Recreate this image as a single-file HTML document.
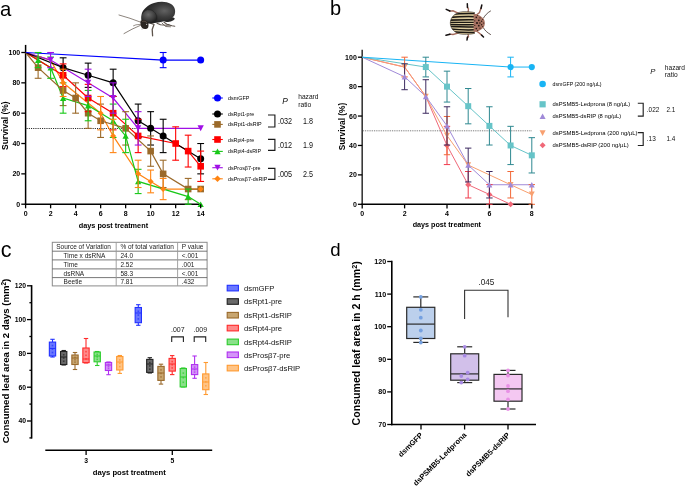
<!DOCTYPE html>
<html><head><meta charset="utf-8"><style>
html,body{margin:0;padding:0;background:#fff;}
svg{display:block;will-change:transform;}
text{font-family:"Liberation Sans",sans-serif;}
</style></head><body>
<svg width="685" height="486" viewBox="0 0 685 486">
<rect width="685" height="486" fill="#fff"/>
<defs>
<radialGradient id="ga1" cx="0.68" cy="0.42" r="0.55"><stop offset="0" stop-color="#626262"/><stop offset="0.55" stop-color="#3c3c3c"/><stop offset="1" stop-color="#262626"/></radialGradient>
<radialGradient id="ga2" cx="0.45" cy="0.35" r="0.6"><stop offset="0" stop-color="#6a6a6a"/><stop offset="0.7" stop-color="#3a3a3a"/><stop offset="1" stop-color="#222"/></radialGradient>
<linearGradient id="gb" x1="0" y1="0" x2="0" y2="1">
<stop offset="0" stop-color="#2a2420"/><stop offset="0.06" stop-color="#e2d2aa"/><stop offset="0.12" stop-color="#1e1a16"/><stop offset="0.2" stop-color="#e6d6ae"/><stop offset="0.26" stop-color="#1e1a16"/><stop offset="0.33" stop-color="#e6d6ae"/><stop offset="0.39" stop-color="#1e1a16"/><stop offset="0.45" stop-color="#e6d6ae"/><stop offset="0.5" stop-color="#2a2420"/><stop offset="0.55" stop-color="#e6d6ae"/><stop offset="0.61" stop-color="#1e1a16"/><stop offset="0.67" stop-color="#e6d6ae"/><stop offset="0.74" stop-color="#1e1a16"/><stop offset="0.8" stop-color="#e6d6ae"/><stop offset="0.88" stop-color="#1e1a16"/><stop offset="0.94" stop-color="#e2d2aa"/><stop offset="1" stop-color="#2a2420"/>
</linearGradient>
</defs>
<g id="beetleA" fill="none" stroke-linecap="round" stroke-linejoin="round">
  <path d="M141,22.3 L130,18.3 L119,15" stroke="#6e645c" stroke-width="0.8"/>
  <path d="M141.2,25 L132,29.2 L124,33.6" stroke="#6e645c" stroke-width="0.8"/>
  <path d="M141,24.3 L136,24.8 L133.5,25.8" stroke="#6e645c" stroke-width="0.7"/>
  <path d="M150.5,23.2 L154,24.5 L152.2,29.5 L152.6,35.8" stroke="#5e544c" stroke-width="1.3"/>
  <path d="M157,23.3 L160.5,24.8 L166,25.2 L169,24.6" stroke="#5e544c" stroke-width="1.1"/>
  <path d="M164,22.2 L167.5,24.6 L172,25.8 L174.8,26.2" stroke="#5e544c" stroke-width="1.1"/>
  <path d="M162,23 L165.5,26.5 L170.5,26.8" stroke="#6e645c" stroke-width="0.9"/>
  <path d="M162.5,16.8 C167.5,16 172.5,16.5 174.8,18.4 C174.2,20.6 170.5,21.8 166.5,21.9 C163.2,21.7 161,19.5 162.5,16.8 Z" fill="#2a2a2a"/>
  <path d="M141.6,14.2 C143,9 148,5 154,3 C160,1.2 166,1.2 171,4 C175,6.5 176,11 174.5,15 C172.8,18.5 168,20.3 163,21.5 C158,22.8 152,23.5 148,23.2 C144,22.8 141,20 141.6,14.2 Z" fill="url(#ga1)"/>
  <path d="M141.2,18.5 C141.3,14 144.5,10.5 148.5,9.8 C152.5,9.3 156,12.5 157,17 C157.6,20.5 154,23.3 149.5,23.6 C145,23.8 141,22 141.2,18.5 Z" fill="url(#ga2)"/>
  <path d="M148.5,9.8 C152.5,9.3 156,12.5 157,17 C157.4,19 156.5,20.8 155,21.8" stroke="#1e1e1e" stroke-width="0.45"/>
  <path d="M140.6,20.8 C141.8,19.6 144.6,19.6 146.4,20.8 C148.6,22.3 149,25.5 148.1,27.8 C147,29.4 143.6,29.6 142.1,28.1 C140.6,26.4 140.1,22.6 140.6,20.8 Z" fill="#2b2622"/>
  <path d="M142.6,21.4 C144,20.8 145.8,21.3 146.8,22.6" stroke="#6a5a50" stroke-width="0.7"/>
  <circle cx="146.6" cy="24.4" r="0.6" fill="#bbb"/>
  <circle cx="142" cy="29" r="0.5" fill="#999"/>
</g>
<clipPath id="cpB"><path d="M474.6,12.6 C471,11.7 467.5,11.5 463,11.7 C455.5,12.2 450.3,17 450.3,23 C450.3,29.2 455.5,33.9 463,34.3 C467.5,34.5 471,34.3 474.6,33.4 Z"/></clipPath>
<g id="beetleB" fill="none" stroke-linecap="round">
  <path d="M476.5,15 L479.5,12.5 L481,8" stroke="#a46a5c" stroke-width="1.35"/>
  <path d="M481,8.5 L481.8,5" stroke="#141010" stroke-width="1.5"/>
  <path d="M468,12.5 L468.5,9 L467.3,7" stroke="#a46a5c" stroke-width="1.35"/>
  <path d="M467.5,7.5 L467.3,3.8" stroke="#141010" stroke-width="1.5"/>
  <path d="M458,13.2 L453,10.8 L449.5,11.2" stroke="#a46a5c" stroke-width="1.35"/>
  <path d="M450,11 L446.2,9.4" stroke="#141010" stroke-width="1.5"/>
  <path d="M476.5,31 L479.5,33.3 L482,35.5" stroke="#a46a5c" stroke-width="1.35"/>
  <path d="M481.5,35 L483.5,37" stroke="#141010" stroke-width="1.5"/>
  <path d="M468,33.8 L468.5,36.5 L467.2,38" stroke="#a46a5c" stroke-width="1.35"/>
  <path d="M467.5,37 L467,40" stroke="#141010" stroke-width="1.5"/>
  <path d="M458,33.2 L453,34.5 L449.5,34.2" stroke="#a46a5c" stroke-width="1.35"/>
  <path d="M450,34.2 L446,35.2" stroke="#141010" stroke-width="1.5"/>
  <path d="M483.5,18 C485,15.5 487,13 490.5,11" stroke="#3a2a24" stroke-width="0.8"/>
  <path d="M483.5,28 C485,30.5 487,32.5 490.5,34.5" stroke="#3a2a24" stroke-width="0.8"/>
  <g clip-path="url(#cpB)">
    <rect x="449" y="11" width="26" height="25" fill="#dccb9e"/>
    <path d="M449,14.73 Q462,13.04 475,13.60" stroke="#1c1814" stroke-width="1.5" fill="none"/>
    <path d="M449,17.46 Q462,16.32 475,16.70" stroke="#1c1814" stroke-width="1.5" fill="none"/>
    <path d="M449,20.18 Q462,19.61 475,19.80" stroke="#1c1814" stroke-width="1.6" fill="none"/>
    <path d="M449,22.47 Q462,22.36 475,22.40" stroke="#1c1814" stroke-width="1.3" fill="none"/>
    <path d="M449,24.50 Q462,24.80 475,24.70" stroke="#1c1814" stroke-width="1.3" fill="none"/>
    <path d="M449,26.52 Q462,27.24 475,27.00" stroke="#1c1814" stroke-width="1.5" fill="none"/>
    <path d="M449,28.98 Q462,30.21 475,29.80" stroke="#1c1814" stroke-width="1.5" fill="none"/>
    <path d="M449,31.27 Q462,32.96 475,32.40" stroke="#1c1814" stroke-width="1.5" fill="none"/>
  </g>
  <path d="M474.6,12.6 C471,11.7 467.5,11.5 463,11.7 C455.5,12.2 450.3,17 450.3,23 C450.3,29.2 455.5,33.9 463,34.3 C467.5,34.5 471,34.3 474.6,33.4" stroke="#3a3028" stroke-width="0.6"/>
  <path d="M473.6,14 C477.5,13.8 481.5,16.5 483.8,19 C485.2,21.5 485.2,24.8 483.8,27.2 C481.5,29.8 477.5,32.2 473.6,32 Z" fill="#a87262"/>
  <circle cx="476.3" cy="17.4" r="0.8" fill="#2a1a14"/>
  <circle cx="478.8" cy="20.3" r="0.9" fill="#2a1a14"/>
  <circle cx="477" cy="23" r="1.1" fill="#2a1a14"/>
  <circle cx="478.8" cy="25.7" r="0.9" fill="#2a1a14"/>
  <circle cx="476.3" cy="28.6" r="0.8" fill="#2a1a14"/>
  <circle cx="481.6" cy="21.3" r="0.7" fill="#2a1a14"/>
  <circle cx="481.6" cy="24.8" r="0.7" fill="#2a1a14"/>
  <circle cx="474.8" cy="20.8" r="0.6" fill="#2a1a14"/>
  <circle cx="474.8" cy="25.3" r="0.6" fill="#2a1a14"/>
  <circle cx="483.6" cy="23" r="0.6" fill="#2a1a14"/>
  <circle cx="480" cy="17.8" r="0.6" fill="#2a1a14"/>
  <circle cx="480" cy="28.2" r="0.6" fill="#2a1a14"/>
  <circle cx="479.9" cy="23" r="0.8" fill="#2a1a14"/>
  <circle cx="482.6" cy="19.6" r="0.5" fill="#2a1a14"/>
  <circle cx="482.6" cy="26.4" r="0.5" fill="#2a1a14"/>
  <circle cx="477.6" cy="15.6" r="0.5" fill="#2a1a14"/>
  <circle cx="477.6" cy="30.4" r="0.5" fill="#2a1a14"/>
</g>

<text x="0.00" y="15.70" font-size="20.3" text-anchor="start" fill="#000" >a</text>
<text x="329.90" y="15.00" font-size="20.0" text-anchor="start" fill="#000" >b</text>
<text x="0.70" y="256.50" font-size="21.5" text-anchor="start" fill="#000" >c</text>
<text x="330.30" y="255.80" font-size="18.6" text-anchor="start" fill="#000" >d</text>
<line x1="26.60" y1="128.50" x2="200.67" y2="128.50" stroke="#1a1a1a" stroke-width="0.95" stroke-dasharray="1.1,1.1"/>
<line x1="25.60" y1="44.91" x2="25.60" y2="204.95" stroke="#000" stroke-width="1.5" />
<line x1="24.85" y1="204.20" x2="201.17" y2="204.20" stroke="#000" stroke-width="1.5" />
<polyline points="25.60,52.50 50.61,60.09 63.12,82.84 100.63,113.18 113.14,135.94 138.15,173.86 150.65,181.44 163.16,189.03 200.67,189.03" fill="none" stroke="#ff8412" stroke-width="1.2"/>
<polyline points="25.60,52.50 50.61,60.09 88.12,82.84 113.14,98.01 138.15,128.35 200.67,128.35" fill="none" stroke="#a010e6" stroke-width="1.2"/>
<polyline points="25.60,52.50 38.11,60.09 50.61,67.67 63.12,98.01 88.12,105.59 113.14,120.77 125.64,135.94 138.15,181.44 188.16,196.61 200.67,204.20" fill="none" stroke="#18c818" stroke-width="1.2"/>
<polyline points="25.60,52.50 63.12,75.25 88.12,98.01 113.14,113.18 138.15,135.94 175.66,143.52 188.16,151.10 200.67,166.27" fill="none" stroke="#ff0000" stroke-width="1.2"/>
<polyline points="25.60,52.50 38.11,67.67 63.12,90.42 75.62,98.01 88.12,113.18 100.63,120.77 125.64,128.35 150.65,151.10 163.16,173.86 188.16,189.03 200.67,189.03" fill="none" stroke="#9b6a2a" stroke-width="1.2"/>
<polyline points="25.60,52.50 63.12,67.67 88.12,75.25 113.14,82.84 138.15,120.77 150.65,128.35 163.16,135.94 200.67,158.69" fill="none" stroke="#000000" stroke-width="1.2"/>
<polyline points="25.60,52.50 163.16,60.09 200.67,60.09" fill="none" stroke="#0000ff" stroke-width="1.2"/>
<line x1="163.16" y1="52.50" x2="163.16" y2="67.67" stroke="#0000ff" stroke-width="1.1" />
<line x1="159.75" y1="52.50" x2="166.56" y2="52.50" stroke="#0000ff" stroke-width="1.1" />
<line x1="159.75" y1="67.67" x2="166.56" y2="67.67" stroke="#0000ff" stroke-width="1.1" />
<circle cx="163.16" cy="60.09" r="3.50" fill="#0000ff"/>
<circle cx="200.67" cy="60.09" r="3.50" fill="#0000ff"/>
<line x1="63.12" y1="57.81" x2="63.12" y2="77.53" stroke="#000000" stroke-width="1.1" />
<line x1="59.72" y1="57.81" x2="66.52" y2="57.81" stroke="#000000" stroke-width="1.1" />
<line x1="59.72" y1="77.53" x2="66.52" y2="77.53" stroke="#000000" stroke-width="1.1" />
<line x1="88.12" y1="63.12" x2="88.12" y2="87.39" stroke="#000000" stroke-width="1.1" />
<line x1="84.72" y1="63.12" x2="91.53" y2="63.12" stroke="#000000" stroke-width="1.1" />
<line x1="84.72" y1="87.39" x2="91.53" y2="87.39" stroke="#000000" stroke-width="1.1" />
<line x1="113.14" y1="69.19" x2="113.14" y2="96.49" stroke="#000000" stroke-width="1.1" />
<line x1="109.74" y1="69.19" x2="116.54" y2="69.19" stroke="#000000" stroke-width="1.1" />
<line x1="109.74" y1="96.49" x2="116.54" y2="96.49" stroke="#000000" stroke-width="1.1" />
<line x1="138.15" y1="104.08" x2="138.15" y2="137.45" stroke="#000000" stroke-width="1.1" />
<line x1="134.75" y1="104.08" x2="141.55" y2="104.08" stroke="#000000" stroke-width="1.1" />
<line x1="134.75" y1="137.45" x2="141.55" y2="137.45" stroke="#000000" stroke-width="1.1" />
<line x1="150.65" y1="111.66" x2="150.65" y2="145.04" stroke="#000000" stroke-width="1.1" />
<line x1="147.25" y1="111.66" x2="154.05" y2="111.66" stroke="#000000" stroke-width="1.1" />
<line x1="147.25" y1="145.04" x2="154.05" y2="145.04" stroke="#000000" stroke-width="1.1" />
<line x1="163.16" y1="119.25" x2="163.16" y2="152.62" stroke="#000000" stroke-width="1.1" />
<line x1="159.75" y1="119.25" x2="166.56" y2="119.25" stroke="#000000" stroke-width="1.1" />
<line x1="159.75" y1="152.62" x2="166.56" y2="152.62" stroke="#000000" stroke-width="1.1" />
<line x1="200.67" y1="143.52" x2="200.67" y2="173.86" stroke="#000000" stroke-width="1.1" />
<line x1="197.27" y1="143.52" x2="204.07" y2="143.52" stroke="#000000" stroke-width="1.1" />
<line x1="197.27" y1="173.86" x2="204.07" y2="173.86" stroke="#000000" stroke-width="1.1" />
<circle cx="63.12" cy="67.67" r="3.50" fill="#000000"/>
<circle cx="88.12" cy="75.25" r="3.50" fill="#000000"/>
<circle cx="113.14" cy="82.84" r="3.50" fill="#000000"/>
<circle cx="138.15" cy="120.77" r="3.50" fill="#000000"/>
<circle cx="150.65" cy="128.35" r="3.50" fill="#000000"/>
<circle cx="163.16" cy="135.94" r="3.50" fill="#000000"/>
<circle cx="200.67" cy="158.69" r="3.50" fill="#000000"/>
<line x1="38.11" y1="57.05" x2="38.11" y2="78.29" stroke="#9b6a2a" stroke-width="1.1" />
<line x1="34.71" y1="57.05" x2="41.51" y2="57.05" stroke="#9b6a2a" stroke-width="1.1" />
<line x1="34.71" y1="78.29" x2="41.51" y2="78.29" stroke="#9b6a2a" stroke-width="1.1" />
<line x1="63.12" y1="75.25" x2="63.12" y2="105.59" stroke="#9b6a2a" stroke-width="1.1" />
<line x1="59.72" y1="75.25" x2="66.52" y2="75.25" stroke="#9b6a2a" stroke-width="1.1" />
<line x1="59.72" y1="105.59" x2="66.52" y2="105.59" stroke="#9b6a2a" stroke-width="1.1" />
<line x1="75.62" y1="82.84" x2="75.62" y2="113.18" stroke="#9b6a2a" stroke-width="1.1" />
<line x1="72.22" y1="82.84" x2="79.02" y2="82.84" stroke="#9b6a2a" stroke-width="1.1" />
<line x1="72.22" y1="113.18" x2="79.02" y2="113.18" stroke="#9b6a2a" stroke-width="1.1" />
<line x1="88.12" y1="98.01" x2="88.12" y2="128.35" stroke="#9b6a2a" stroke-width="1.1" />
<line x1="84.72" y1="98.01" x2="91.53" y2="98.01" stroke="#9b6a2a" stroke-width="1.1" />
<line x1="84.72" y1="128.35" x2="91.53" y2="128.35" stroke="#9b6a2a" stroke-width="1.1" />
<line x1="100.63" y1="104.08" x2="100.63" y2="137.45" stroke="#9b6a2a" stroke-width="1.1" />
<line x1="97.23" y1="104.08" x2="104.03" y2="104.08" stroke="#9b6a2a" stroke-width="1.1" />
<line x1="97.23" y1="137.45" x2="104.03" y2="137.45" stroke="#9b6a2a" stroke-width="1.1" />
<line x1="125.64" y1="111.66" x2="125.64" y2="145.04" stroke="#9b6a2a" stroke-width="1.1" />
<line x1="122.24" y1="111.66" x2="129.04" y2="111.66" stroke="#9b6a2a" stroke-width="1.1" />
<line x1="122.24" y1="145.04" x2="129.04" y2="145.04" stroke="#9b6a2a" stroke-width="1.1" />
<line x1="150.65" y1="135.94" x2="150.65" y2="166.27" stroke="#9b6a2a" stroke-width="1.1" />
<line x1="147.25" y1="135.94" x2="154.05" y2="135.94" stroke="#9b6a2a" stroke-width="1.1" />
<line x1="147.25" y1="166.27" x2="154.05" y2="166.27" stroke="#9b6a2a" stroke-width="1.1" />
<line x1="163.16" y1="160.21" x2="163.16" y2="187.51" stroke="#9b6a2a" stroke-width="1.1" />
<line x1="159.75" y1="160.21" x2="166.56" y2="160.21" stroke="#9b6a2a" stroke-width="1.1" />
<line x1="159.75" y1="187.51" x2="166.56" y2="187.51" stroke="#9b6a2a" stroke-width="1.1" />
<line x1="188.16" y1="178.41" x2="188.16" y2="199.65" stroke="#9b6a2a" stroke-width="1.1" />
<line x1="184.76" y1="178.41" x2="191.56" y2="178.41" stroke="#9b6a2a" stroke-width="1.1" />
<line x1="184.76" y1="199.65" x2="191.56" y2="199.65" stroke="#9b6a2a" stroke-width="1.1" />
<rect x="34.81" y="64.37" width="6.60" height="6.60" fill="#9b6a2a"/>
<rect x="59.82" y="87.12" width="6.60" height="6.60" fill="#9b6a2a"/>
<rect x="72.32" y="94.71" width="6.60" height="6.60" fill="#9b6a2a"/>
<rect x="84.83" y="109.88" width="6.60" height="6.60" fill="#9b6a2a"/>
<rect x="97.33" y="117.47" width="6.60" height="6.60" fill="#9b6a2a"/>
<rect x="122.34" y="125.05" width="6.60" height="6.60" fill="#9b6a2a"/>
<rect x="147.35" y="147.80" width="6.60" height="6.60" fill="#9b6a2a"/>
<rect x="159.85" y="170.56" width="6.60" height="6.60" fill="#9b6a2a"/>
<rect x="184.86" y="185.73" width="6.60" height="6.60" fill="#9b6a2a"/>
<rect x="197.37" y="185.73" width="6.60" height="6.60" fill="#9b6a2a"/>
<line x1="63.12" y1="63.88" x2="63.12" y2="86.63" stroke="#ff0000" stroke-width="1.1" />
<line x1="59.72" y1="63.88" x2="66.52" y2="63.88" stroke="#ff0000" stroke-width="1.1" />
<line x1="59.72" y1="86.63" x2="66.52" y2="86.63" stroke="#ff0000" stroke-width="1.1" />
<line x1="88.12" y1="84.36" x2="88.12" y2="111.66" stroke="#ff0000" stroke-width="1.1" />
<line x1="84.72" y1="84.36" x2="91.53" y2="84.36" stroke="#ff0000" stroke-width="1.1" />
<line x1="84.72" y1="111.66" x2="91.53" y2="111.66" stroke="#ff0000" stroke-width="1.1" />
<line x1="113.14" y1="96.49" x2="113.14" y2="129.87" stroke="#ff0000" stroke-width="1.1" />
<line x1="109.74" y1="96.49" x2="116.54" y2="96.49" stroke="#ff0000" stroke-width="1.1" />
<line x1="109.74" y1="129.87" x2="116.54" y2="129.87" stroke="#ff0000" stroke-width="1.1" />
<line x1="138.15" y1="119.25" x2="138.15" y2="152.62" stroke="#ff0000" stroke-width="1.1" />
<line x1="134.75" y1="119.25" x2="141.55" y2="119.25" stroke="#ff0000" stroke-width="1.1" />
<line x1="134.75" y1="152.62" x2="141.55" y2="152.62" stroke="#ff0000" stroke-width="1.1" />
<line x1="175.66" y1="126.83" x2="175.66" y2="160.21" stroke="#ff0000" stroke-width="1.1" />
<line x1="172.26" y1="126.83" x2="179.06" y2="126.83" stroke="#ff0000" stroke-width="1.1" />
<line x1="172.26" y1="160.21" x2="179.06" y2="160.21" stroke="#ff0000" stroke-width="1.1" />
<line x1="188.16" y1="135.18" x2="188.16" y2="167.03" stroke="#ff0000" stroke-width="1.1" />
<line x1="184.76" y1="135.18" x2="191.56" y2="135.18" stroke="#ff0000" stroke-width="1.1" />
<line x1="184.76" y1="167.03" x2="191.56" y2="167.03" stroke="#ff0000" stroke-width="1.1" />
<line x1="200.67" y1="151.10" x2="200.67" y2="181.44" stroke="#ff0000" stroke-width="1.1" />
<line x1="197.27" y1="151.10" x2="204.07" y2="151.10" stroke="#ff0000" stroke-width="1.1" />
<line x1="197.27" y1="181.44" x2="204.07" y2="181.44" stroke="#ff0000" stroke-width="1.1" />
<rect x="59.82" y="71.95" width="6.60" height="6.60" fill="#ff0000"/>
<rect x="84.83" y="94.71" width="6.60" height="6.60" fill="#ff0000"/>
<rect x="109.84" y="109.88" width="6.60" height="6.60" fill="#ff0000"/>
<rect x="134.84" y="132.63" width="6.60" height="6.60" fill="#ff0000"/>
<rect x="172.36" y="140.22" width="6.60" height="6.60" fill="#ff0000"/>
<rect x="184.86" y="147.80" width="6.60" height="6.60" fill="#ff0000"/>
<rect x="197.37" y="162.97" width="6.60" height="6.60" fill="#ff0000"/>
<line x1="38.11" y1="52.50" x2="38.11" y2="67.67" stroke="#18c818" stroke-width="1.1" />
<line x1="34.71" y1="52.50" x2="41.51" y2="52.50" stroke="#18c818" stroke-width="1.1" />
<line x1="34.71" y1="67.67" x2="41.51" y2="67.67" stroke="#18c818" stroke-width="1.1" />
<line x1="50.61" y1="57.05" x2="50.61" y2="78.29" stroke="#18c818" stroke-width="1.1" />
<line x1="47.21" y1="57.05" x2="54.01" y2="57.05" stroke="#18c818" stroke-width="1.1" />
<line x1="47.21" y1="78.29" x2="54.01" y2="78.29" stroke="#18c818" stroke-width="1.1" />
<line x1="63.12" y1="82.84" x2="63.12" y2="113.18" stroke="#18c818" stroke-width="1.1" />
<line x1="59.72" y1="82.84" x2="66.52" y2="82.84" stroke="#18c818" stroke-width="1.1" />
<line x1="59.72" y1="113.18" x2="66.52" y2="113.18" stroke="#18c818" stroke-width="1.1" />
<line x1="88.12" y1="90.42" x2="88.12" y2="120.77" stroke="#18c818" stroke-width="1.1" />
<line x1="84.72" y1="90.42" x2="91.53" y2="90.42" stroke="#18c818" stroke-width="1.1" />
<line x1="84.72" y1="120.77" x2="91.53" y2="120.77" stroke="#18c818" stroke-width="1.1" />
<line x1="113.14" y1="104.08" x2="113.14" y2="137.45" stroke="#18c818" stroke-width="1.1" />
<line x1="109.74" y1="104.08" x2="116.54" y2="104.08" stroke="#18c818" stroke-width="1.1" />
<line x1="109.74" y1="137.45" x2="116.54" y2="137.45" stroke="#18c818" stroke-width="1.1" />
<line x1="125.64" y1="119.25" x2="125.64" y2="152.62" stroke="#18c818" stroke-width="1.1" />
<line x1="122.24" y1="119.25" x2="129.04" y2="119.25" stroke="#18c818" stroke-width="1.1" />
<line x1="122.24" y1="152.62" x2="129.04" y2="152.62" stroke="#18c818" stroke-width="1.1" />
<line x1="138.15" y1="169.31" x2="138.15" y2="193.58" stroke="#18c818" stroke-width="1.1" />
<line x1="134.75" y1="169.31" x2="141.55" y2="169.31" stroke="#18c818" stroke-width="1.1" />
<line x1="134.75" y1="193.58" x2="141.55" y2="193.58" stroke="#18c818" stroke-width="1.1" />
<line x1="188.16" y1="189.03" x2="188.16" y2="204.20" stroke="#18c818" stroke-width="1.1" />
<line x1="184.76" y1="189.03" x2="191.56" y2="189.03" stroke="#18c818" stroke-width="1.1" />
<line x1="184.76" y1="204.20" x2="191.56" y2="204.20" stroke="#18c818" stroke-width="1.1" />
<polygon points="38.11,57.27 41.24,62.97 34.97,62.97" fill="#18c818"/>
<polygon points="50.61,64.85 53.75,70.55 47.47,70.55" fill="#18c818"/>
<polygon points="63.12,95.19 66.25,100.89 59.98,100.89" fill="#18c818"/>
<polygon points="88.12,102.78 91.26,108.47 84.99,108.47" fill="#18c818"/>
<polygon points="113.14,117.95 116.27,123.64 110.00,123.64" fill="#18c818"/>
<polygon points="125.64,133.12 128.78,138.81 122.50,138.81" fill="#18c818"/>
<polygon points="138.15,178.63 141.28,184.32 135.01,184.32" fill="#18c818"/>
<polygon points="188.16,193.80 191.30,199.49 185.03,199.49" fill="#18c818"/>
<polygon points="200.67,201.38 203.81,207.08 197.53,207.08" fill="#18c818"/>
<line x1="50.61" y1="52.50" x2="50.61" y2="67.67" stroke="#a010e6" stroke-width="1.1" />
<line x1="47.21" y1="52.50" x2="54.01" y2="52.50" stroke="#a010e6" stroke-width="1.1" />
<line x1="47.21" y1="67.67" x2="54.01" y2="67.67" stroke="#a010e6" stroke-width="1.1" />
<line x1="88.12" y1="69.19" x2="88.12" y2="96.49" stroke="#a010e6" stroke-width="1.1" />
<line x1="84.72" y1="69.19" x2="91.53" y2="69.19" stroke="#a010e6" stroke-width="1.1" />
<line x1="84.72" y1="96.49" x2="91.53" y2="96.49" stroke="#a010e6" stroke-width="1.1" />
<line x1="113.14" y1="82.84" x2="113.14" y2="113.18" stroke="#a010e6" stroke-width="1.1" />
<line x1="109.74" y1="82.84" x2="116.54" y2="82.84" stroke="#a010e6" stroke-width="1.1" />
<line x1="109.74" y1="113.18" x2="116.54" y2="113.18" stroke="#a010e6" stroke-width="1.1" />
<line x1="138.15" y1="111.66" x2="138.15" y2="145.04" stroke="#a010e6" stroke-width="1.1" />
<line x1="134.75" y1="111.66" x2="141.55" y2="111.66" stroke="#a010e6" stroke-width="1.1" />
<line x1="134.75" y1="145.04" x2="141.55" y2="145.04" stroke="#a010e6" stroke-width="1.1" />
<polygon points="50.61,62.90 53.75,57.08 47.47,57.08" fill="#a010e6"/>
<polygon points="88.12,85.66 91.26,79.83 84.99,79.83" fill="#a010e6"/>
<polygon points="113.14,100.83 116.27,95.00 110.00,95.00" fill="#a010e6"/>
<polygon points="138.15,131.17 141.28,125.34 135.01,125.34" fill="#a010e6"/>
<polygon points="200.67,131.17 203.81,125.34 197.53,125.34" fill="#a010e6"/>
<line x1="63.12" y1="69.19" x2="63.12" y2="96.49" stroke="#ff8412" stroke-width="1.1" />
<line x1="59.72" y1="69.19" x2="66.52" y2="69.19" stroke="#ff8412" stroke-width="1.1" />
<line x1="59.72" y1="96.49" x2="66.52" y2="96.49" stroke="#ff8412" stroke-width="1.1" />
<line x1="100.63" y1="96.49" x2="100.63" y2="129.87" stroke="#ff8412" stroke-width="1.1" />
<line x1="97.23" y1="96.49" x2="104.03" y2="96.49" stroke="#ff8412" stroke-width="1.1" />
<line x1="97.23" y1="129.87" x2="104.03" y2="129.87" stroke="#ff8412" stroke-width="1.1" />
<line x1="113.14" y1="119.25" x2="113.14" y2="152.62" stroke="#ff8412" stroke-width="1.1" />
<line x1="109.74" y1="119.25" x2="116.54" y2="119.25" stroke="#ff8412" stroke-width="1.1" />
<line x1="109.74" y1="152.62" x2="116.54" y2="152.62" stroke="#ff8412" stroke-width="1.1" />
<line x1="138.15" y1="160.21" x2="138.15" y2="187.51" stroke="#ff8412" stroke-width="1.1" />
<line x1="134.75" y1="160.21" x2="141.55" y2="160.21" stroke="#ff8412" stroke-width="1.1" />
<line x1="134.75" y1="187.51" x2="141.55" y2="187.51" stroke="#ff8412" stroke-width="1.1" />
<line x1="150.65" y1="170.07" x2="150.65" y2="192.82" stroke="#ff8412" stroke-width="1.1" />
<line x1="147.25" y1="170.07" x2="154.05" y2="170.07" stroke="#ff8412" stroke-width="1.1" />
<line x1="147.25" y1="192.82" x2="154.05" y2="192.82" stroke="#ff8412" stroke-width="1.1" />
<line x1="163.16" y1="178.41" x2="163.16" y2="199.65" stroke="#ff8412" stroke-width="1.1" />
<line x1="159.75" y1="178.41" x2="166.56" y2="178.41" stroke="#ff8412" stroke-width="1.1" />
<line x1="159.75" y1="199.65" x2="166.56" y2="199.65" stroke="#ff8412" stroke-width="1.1" />
<polygon points="63.12,79.84 66.12,82.84 63.12,85.84 60.12,82.84" fill="#ff8412"/>
<polygon points="100.63,110.18 103.63,113.18 100.63,116.18 97.63,113.18" fill="#ff8412"/>
<polygon points="113.14,132.94 116.14,135.94 113.14,138.94 110.14,135.94" fill="#ff8412"/>
<polygon points="138.15,170.86 141.15,173.86 138.15,176.86 135.15,173.86" fill="#ff8412"/>
<polygon points="150.65,178.44 153.65,181.44 150.65,184.44 147.65,181.44" fill="#ff8412"/>
<polygon points="163.16,186.03 166.16,189.03 163.16,192.03 160.16,189.03" fill="#ff8412"/>
<polygon points="200.67,186.03 203.67,189.03 200.67,192.03 197.67,189.03" fill="#ff8412"/>
<line x1="21.30" y1="204.20" x2="25.60" y2="204.20" stroke="#000" stroke-width="1.3" />
<text x="20.20" y="206.70" font-size="7.0" font-weight="bold" text-anchor="end" fill="#000" >0</text>
<line x1="21.30" y1="173.86" x2="25.60" y2="173.86" stroke="#000" stroke-width="1.3" />
<text x="20.20" y="176.36" font-size="7.0" font-weight="bold" text-anchor="end" fill="#000" >20</text>
<line x1="21.30" y1="143.52" x2="25.60" y2="143.52" stroke="#000" stroke-width="1.3" />
<text x="20.20" y="146.02" font-size="7.0" font-weight="bold" text-anchor="end" fill="#000" >40</text>
<line x1="21.30" y1="113.18" x2="25.60" y2="113.18" stroke="#000" stroke-width="1.3" />
<text x="20.20" y="115.68" font-size="7.0" font-weight="bold" text-anchor="end" fill="#000" >60</text>
<line x1="21.30" y1="82.84" x2="25.60" y2="82.84" stroke="#000" stroke-width="1.3" />
<text x="20.20" y="85.34" font-size="7.0" font-weight="bold" text-anchor="end" fill="#000" >80</text>
<line x1="21.30" y1="52.50" x2="25.60" y2="52.50" stroke="#000" stroke-width="1.3" />
<text x="20.20" y="55.00" font-size="7.0" font-weight="bold" text-anchor="end" fill="#000" >100</text>
<line x1="25.60" y1="204.20" x2="25.60" y2="208.30" stroke="#000" stroke-width="1.3" />
<text x="25.60" y="216.20" font-size="7.0" font-weight="bold" text-anchor="middle" fill="#000" >0</text>
<line x1="50.61" y1="204.20" x2="50.61" y2="208.30" stroke="#000" stroke-width="1.3" />
<text x="50.61" y="216.20" font-size="7.0" font-weight="bold" text-anchor="middle" fill="#000" >2</text>
<line x1="75.62" y1="204.20" x2="75.62" y2="208.30" stroke="#000" stroke-width="1.3" />
<text x="75.62" y="216.20" font-size="7.0" font-weight="bold" text-anchor="middle" fill="#000" >4</text>
<line x1="100.63" y1="204.20" x2="100.63" y2="208.30" stroke="#000" stroke-width="1.3" />
<text x="100.63" y="216.20" font-size="7.0" font-weight="bold" text-anchor="middle" fill="#000" >6</text>
<line x1="125.64" y1="204.20" x2="125.64" y2="208.30" stroke="#000" stroke-width="1.3" />
<text x="125.64" y="216.20" font-size="7.0" font-weight="bold" text-anchor="middle" fill="#000" >8</text>
<line x1="150.65" y1="204.20" x2="150.65" y2="208.30" stroke="#000" stroke-width="1.3" />
<text x="150.65" y="216.20" font-size="7.0" font-weight="bold" text-anchor="middle" fill="#000" >10</text>
<line x1="175.66" y1="204.20" x2="175.66" y2="208.30" stroke="#000" stroke-width="1.3" />
<text x="175.66" y="216.20" font-size="7.0" font-weight="bold" text-anchor="middle" fill="#000" >12</text>
<line x1="200.67" y1="204.20" x2="200.67" y2="208.30" stroke="#000" stroke-width="1.3" />
<text x="200.67" y="216.20" font-size="7.0" font-weight="bold" text-anchor="middle" fill="#000" >14</text>
<text x="113.40" y="227.50" font-size="7.3" font-weight="bold" text-anchor="middle" fill="#000" >days post treatment</text>
<text transform="translate(7.5,125.7) rotate(-90)" font-size="8.5" font-weight="bold" text-anchor="middle">Survival (%)</text>
<line x1="212.30" y1="98.00" x2="222.80" y2="98.00" stroke="#0000ff" stroke-width="1.1" />
<circle cx="217.50" cy="98.00" r="3.50" fill="#0000ff"/>
<text x="228.00" y="100.00" font-size="5.9" text-anchor="start" fill="#000" textLength="21.4" lengthAdjust="spacingAndGlyphs">dsmGFP</text>
<line x1="212.30" y1="114.00" x2="222.80" y2="114.00" stroke="#000000" stroke-width="1.1" />
<circle cx="217.50" cy="114.00" r="3.50" fill="#000000"/>
<text x="228.00" y="116.00" font-size="5.9" text-anchor="start" fill="#000" textLength="26.3" lengthAdjust="spacingAndGlyphs">dsRpt1-pre</text>
<line x1="212.30" y1="124.40" x2="222.80" y2="124.40" stroke="#9b6a2a" stroke-width="1.1" />
<rect x="214.20" y="121.10" width="6.60" height="6.60" fill="#9b6a2a"/>
<text x="228.00" y="126.40" font-size="5.9" text-anchor="start" fill="#000" textLength="33.7" lengthAdjust="spacingAndGlyphs">dsRpt1-dsRIP</text>
<line x1="212.30" y1="139.50" x2="222.80" y2="139.50" stroke="#ff0000" stroke-width="1.1" />
<rect x="214.20" y="136.20" width="6.60" height="6.60" fill="#ff0000"/>
<text x="228.00" y="141.50" font-size="5.9" text-anchor="start" fill="#000" textLength="26.2" lengthAdjust="spacingAndGlyphs">dsRpt4-pre</text>
<line x1="212.30" y1="151.40" x2="222.80" y2="151.40" stroke="#18c818" stroke-width="1.1" />
<polygon points="217.50,148.58 220.64,154.28 214.36,154.28" fill="#18c818"/>
<text x="228.00" y="153.40" font-size="5.9" text-anchor="start" fill="#000" textLength="33.0" lengthAdjust="spacingAndGlyphs">dsRpt4-dsRIP</text>
<line x1="212.30" y1="167.70" x2="222.80" y2="167.70" stroke="#a010e6" stroke-width="1.1" />
<polygon points="217.50,170.52 220.64,164.69 214.36,164.69" fill="#a010e6"/>
<text x="228.00" y="169.70" font-size="5.9" text-anchor="start" fill="#000" textLength="32.6" lengthAdjust="spacingAndGlyphs">dsProsβ7-pre</text>
<line x1="212.30" y1="178.80" x2="222.80" y2="178.80" stroke="#ff8412" stroke-width="1.1" />
<polygon points="217.50,175.56 220.74,178.80 217.50,182.04 214.26,178.80" fill="#ff8412"/>
<text x="228.00" y="180.80" font-size="5.9" text-anchor="start" fill="#000" textLength="39.4" lengthAdjust="spacingAndGlyphs">dsProsβ7-dsRIP</text>
<text x="282.20" y="104.20" font-size="8.4" text-anchor="start" fill="#111" font-style="italic">P</text>
<text x="298.20" y="99.00" font-size="6.95" text-anchor="start" fill="#111" textLength="20.3" lengthAdjust="spacingAndGlyphs">hazard</text>
<text x="298.20" y="106.60" font-size="6.95" text-anchor="start" fill="#111" textLength="13.2" lengthAdjust="spacingAndGlyphs">ratio</text>
<polyline points="268.0,115 274.9,115 274.9,127 268.0,127" fill="none" stroke="#1a1a1a" stroke-width="1.15"/>
<text x="277.90" y="123.75" font-size="8.6" text-anchor="start" fill="#111" textLength="14.1" lengthAdjust="spacingAndGlyphs">.032</text>
<text x="302.90" y="123.75" font-size="8.6" text-anchor="start" fill="#111" textLength="10.0" lengthAdjust="spacingAndGlyphs">1.8</text>
<polyline points="268.0,139.3 274.9,139.3 274.9,150.4 268.0,150.4" fill="none" stroke="#1a1a1a" stroke-width="1.15"/>
<text x="277.90" y="147.60" font-size="8.6" text-anchor="start" fill="#111" textLength="14.1" lengthAdjust="spacingAndGlyphs">.012</text>
<text x="302.90" y="147.60" font-size="8.6" text-anchor="start" fill="#111" textLength="10.0" lengthAdjust="spacingAndGlyphs">1.9</text>
<polyline points="268.0,168.4 274.9,168.4 274.9,179.3 268.0,179.3" fill="none" stroke="#1a1a1a" stroke-width="1.15"/>
<text x="277.90" y="176.60" font-size="8.6" text-anchor="start" fill="#111" textLength="14.1" lengthAdjust="spacingAndGlyphs">.005</text>
<text x="302.90" y="176.60" font-size="8.6" text-anchor="start" fill="#111" textLength="10.0" lengthAdjust="spacingAndGlyphs">2.5</text>
<line x1="363.20" y1="130.80" x2="531.80" y2="130.80" stroke="#666" stroke-width="0.95" stroke-dasharray="0.9,0.9"/>
<line x1="362.20" y1="49.84" x2="362.20" y2="205.05" stroke="#3a3a3a" stroke-width="1.6" />
<line x1="361.45" y1="204.30" x2="532.30" y2="204.30" stroke="#000" stroke-width="1.5" />
<polyline points="362.20,57.20 404.60,67.06 425.80,96.48 447.00,145.46 468.20,184.74 489.40,194.44 510.60,204.30" fill="none" stroke="#f06878" stroke-width="1.0"/>
<polyline points="362.20,57.20 404.60,67.06 425.80,96.48 447.00,135.60 468.20,165.02 510.60,184.74 531.80,194.44" fill="none" stroke="#f8a070" stroke-width="1.0"/>
<polyline points="362.20,57.20 404.60,76.76 425.80,96.48 447.00,125.90 468.20,165.02 489.40,184.74 510.60,184.74 531.80,184.74" fill="none" stroke="#a08ad8" stroke-width="1.0"/>
<polyline points="362.20,57.20 425.80,67.06 447.00,86.62 468.20,106.18 489.40,125.90 510.60,145.46 531.80,155.32" fill="none" stroke="#66c4c8" stroke-width="1.0"/>
<polyline points="362.20,57.20 510.60,67.06 531.80,67.06" fill="none" stroke="#18b4f4" stroke-width="1.0"/>
<line x1="447.00" y1="126.34" x2="447.00" y2="164.58" stroke="#f03c4c" stroke-width="1.0" />
<line x1="443.80" y1="126.34" x2="450.20" y2="126.34" stroke="#f03c4c" stroke-width="1.0" />
<line x1="443.80" y1="164.58" x2="450.20" y2="164.58" stroke="#f03c4c" stroke-width="1.0" />
<line x1="468.20" y1="171.50" x2="468.20" y2="197.97" stroke="#f03c4c" stroke-width="1.0" />
<line x1="465.00" y1="171.50" x2="471.40" y2="171.50" stroke="#f03c4c" stroke-width="1.0" />
<line x1="465.00" y1="197.97" x2="471.40" y2="197.97" stroke="#f03c4c" stroke-width="1.0" />
<line x1="489.40" y1="184.59" x2="489.40" y2="204.30" stroke="#f03c4c" stroke-width="1.0" />
<line x1="486.20" y1="184.59" x2="492.60" y2="184.59" stroke="#f03c4c" stroke-width="1.0" />
<line x1="486.20" y1="204.30" x2="492.60" y2="204.30" stroke="#f03c4c" stroke-width="1.0" />
<polygon points="447.00,142.46 450.00,145.46 447.00,148.46 444.00,145.46" fill="#f06878"/>
<polygon points="468.20,181.74 471.20,184.74 468.20,187.74 465.20,184.74" fill="#f06878"/>
<polygon points="489.40,191.44 492.40,194.44 489.40,197.44 486.40,194.44" fill="#f06878"/>
<polygon points="510.60,201.30 513.60,204.30 510.60,207.30 507.60,204.30" fill="#f06878"/>
<line x1="404.60" y1="57.20" x2="404.60" y2="76.91" stroke="#f26838" stroke-width="1.0" />
<line x1="401.40" y1="57.20" x2="407.80" y2="57.20" stroke="#f26838" stroke-width="1.0" />
<line x1="401.40" y1="76.91" x2="407.80" y2="76.91" stroke="#f26838" stroke-width="1.0" />
<line x1="447.00" y1="116.48" x2="447.00" y2="154.73" stroke="#f26838" stroke-width="1.0" />
<line x1="443.80" y1="116.48" x2="450.20" y2="116.48" stroke="#f26838" stroke-width="1.0" />
<line x1="443.80" y1="154.73" x2="450.20" y2="154.73" stroke="#f26838" stroke-width="1.0" />
<line x1="510.60" y1="171.50" x2="510.60" y2="197.97" stroke="#f26838" stroke-width="1.0" />
<line x1="507.40" y1="171.50" x2="513.80" y2="171.50" stroke="#f26838" stroke-width="1.0" />
<line x1="507.40" y1="197.97" x2="513.80" y2="197.97" stroke="#f26838" stroke-width="1.0" />
<line x1="531.80" y1="184.59" x2="531.80" y2="204.30" stroke="#f26838" stroke-width="1.0" />
<line x1="528.60" y1="184.59" x2="535.00" y2="184.59" stroke="#f26838" stroke-width="1.0" />
<line x1="528.60" y1="204.30" x2="535.00" y2="204.30" stroke="#f26838" stroke-width="1.0" />
<polygon points="404.60,69.70 407.54,64.24 401.66,64.24" fill="#f8a070"/>
<polygon points="425.80,99.12 428.74,93.66 422.86,93.66" fill="#f8a070"/>
<polygon points="447.00,138.24 449.94,132.78 444.06,132.78" fill="#f8a070"/>
<polygon points="468.20,167.66 471.14,162.20 465.26,162.20" fill="#f8a070"/>
<polygon points="510.60,187.38 513.54,181.92 507.66,181.92" fill="#f8a070"/>
<polygon points="531.80,197.08 534.74,191.62 528.86,191.62" fill="#f8a070"/>
<line x1="404.60" y1="63.82" x2="404.60" y2="89.71" stroke="#3c2a60" stroke-width="1.0" />
<line x1="401.40" y1="63.82" x2="407.80" y2="63.82" stroke="#3c2a60" stroke-width="1.0" />
<line x1="401.40" y1="89.71" x2="407.80" y2="89.71" stroke="#3c2a60" stroke-width="1.0" />
<line x1="425.80" y1="79.71" x2="425.80" y2="113.25" stroke="#3c2a60" stroke-width="1.0" />
<line x1="422.60" y1="79.71" x2="429.00" y2="79.71" stroke="#3c2a60" stroke-width="1.0" />
<line x1="422.60" y1="113.25" x2="429.00" y2="113.25" stroke="#3c2a60" stroke-width="1.0" />
<line x1="447.00" y1="106.77" x2="447.00" y2="145.02" stroke="#3c2a60" stroke-width="1.0" />
<line x1="443.80" y1="106.77" x2="450.20" y2="106.77" stroke="#3c2a60" stroke-width="1.0" />
<line x1="443.80" y1="145.02" x2="450.20" y2="145.02" stroke="#3c2a60" stroke-width="1.0" />
<line x1="468.20" y1="148.11" x2="468.20" y2="181.94" stroke="#3c2a60" stroke-width="1.0" />
<line x1="465.00" y1="148.11" x2="471.40" y2="148.11" stroke="#3c2a60" stroke-width="1.0" />
<line x1="465.00" y1="181.94" x2="471.40" y2="181.94" stroke="#3c2a60" stroke-width="1.0" />
<line x1="489.40" y1="171.50" x2="489.40" y2="197.97" stroke="#3c2a60" stroke-width="1.0" />
<line x1="486.20" y1="171.50" x2="492.60" y2="171.50" stroke="#3c2a60" stroke-width="1.0" />
<line x1="486.20" y1="197.97" x2="492.60" y2="197.97" stroke="#3c2a60" stroke-width="1.0" />
<polygon points="404.60,74.12 407.54,79.46 401.66,79.46" fill="#a08ad8"/>
<polygon points="425.80,93.84 428.74,99.18 422.86,99.18" fill="#a08ad8"/>
<polygon points="447.00,123.26 449.94,128.60 444.06,128.60" fill="#a08ad8"/>
<polygon points="468.20,162.38 471.14,167.72 465.26,167.72" fill="#a08ad8"/>
<polygon points="489.40,182.10 492.34,187.44 486.46,187.44" fill="#a08ad8"/>
<polygon points="510.60,182.10 513.54,187.44 507.66,187.44" fill="#a08ad8"/>
<polygon points="531.80,182.10 534.74,187.44 528.86,187.44" fill="#a08ad8"/>
<line x1="425.80" y1="57.20" x2="425.80" y2="76.91" stroke="#2e8890" stroke-width="1.0" />
<line x1="422.60" y1="57.20" x2="429.00" y2="57.20" stroke="#2e8890" stroke-width="1.0" />
<line x1="422.60" y1="76.91" x2="429.00" y2="76.91" stroke="#2e8890" stroke-width="1.0" />
<line x1="447.00" y1="71.17" x2="447.00" y2="102.07" stroke="#2e8890" stroke-width="1.0" />
<line x1="443.80" y1="71.17" x2="450.20" y2="71.17" stroke="#2e8890" stroke-width="1.0" />
<line x1="443.80" y1="102.07" x2="450.20" y2="102.07" stroke="#2e8890" stroke-width="1.0" />
<line x1="468.20" y1="88.53" x2="468.20" y2="123.84" stroke="#2e8890" stroke-width="1.0" />
<line x1="465.00" y1="88.53" x2="471.40" y2="88.53" stroke="#2e8890" stroke-width="1.0" />
<line x1="465.00" y1="123.84" x2="471.40" y2="123.84" stroke="#2e8890" stroke-width="1.0" />
<line x1="489.40" y1="106.77" x2="489.40" y2="145.02" stroke="#2e8890" stroke-width="1.0" />
<line x1="486.20" y1="106.77" x2="492.60" y2="106.77" stroke="#2e8890" stroke-width="1.0" />
<line x1="486.20" y1="145.02" x2="492.60" y2="145.02" stroke="#2e8890" stroke-width="1.0" />
<line x1="510.60" y1="126.34" x2="510.60" y2="164.58" stroke="#2e8890" stroke-width="1.0" />
<line x1="507.40" y1="126.34" x2="513.80" y2="126.34" stroke="#2e8890" stroke-width="1.0" />
<line x1="507.40" y1="164.58" x2="513.80" y2="164.58" stroke="#2e8890" stroke-width="1.0" />
<line x1="531.80" y1="137.66" x2="531.80" y2="172.97" stroke="#2e8890" stroke-width="1.0" />
<line x1="528.60" y1="137.66" x2="535.00" y2="137.66" stroke="#2e8890" stroke-width="1.0" />
<line x1="528.60" y1="172.97" x2="535.00" y2="172.97" stroke="#2e8890" stroke-width="1.0" />
<rect x="422.80" y="64.06" width="6.00" height="6.00" fill="#66c4c8"/>
<rect x="444.00" y="83.62" width="6.00" height="6.00" fill="#66c4c8"/>
<rect x="465.20" y="103.18" width="6.00" height="6.00" fill="#66c4c8"/>
<rect x="486.40" y="122.90" width="6.00" height="6.00" fill="#66c4c8"/>
<rect x="507.60" y="142.46" width="6.00" height="6.00" fill="#66c4c8"/>
<rect x="528.80" y="152.32" width="6.00" height="6.00" fill="#66c4c8"/>
<line x1="510.60" y1="57.20" x2="510.60" y2="76.91" stroke="#18b4f4" stroke-width="1.0" />
<line x1="507.40" y1="57.20" x2="513.80" y2="57.20" stroke="#18b4f4" stroke-width="1.0" />
<line x1="507.40" y1="76.91" x2="513.80" y2="76.91" stroke="#18b4f4" stroke-width="1.0" />
<circle cx="510.60" cy="67.06" r="3.10" fill="#18b4f4"/>
<circle cx="531.80" cy="67.06" r="3.10" fill="#18b4f4"/>
<line x1="357.90" y1="204.30" x2="362.20" y2="204.30" stroke="#000" stroke-width="1.3" />
<text x="356.80" y="206.80" font-size="7.0" font-weight="bold" text-anchor="end" fill="#000" >0</text>
<line x1="357.90" y1="174.88" x2="362.20" y2="174.88" stroke="#000" stroke-width="1.3" />
<text x="356.80" y="177.38" font-size="7.0" font-weight="bold" text-anchor="end" fill="#000" >20</text>
<line x1="357.90" y1="145.46" x2="362.20" y2="145.46" stroke="#000" stroke-width="1.3" />
<text x="356.80" y="147.96" font-size="7.0" font-weight="bold" text-anchor="end" fill="#000" >40</text>
<line x1="357.90" y1="116.04" x2="362.20" y2="116.04" stroke="#000" stroke-width="1.3" />
<text x="356.80" y="118.54" font-size="7.0" font-weight="bold" text-anchor="end" fill="#000" >60</text>
<line x1="357.90" y1="86.62" x2="362.20" y2="86.62" stroke="#000" stroke-width="1.3" />
<text x="356.80" y="89.12" font-size="7.0" font-weight="bold" text-anchor="end" fill="#000" >80</text>
<line x1="357.90" y1="57.20" x2="362.20" y2="57.20" stroke="#000" stroke-width="1.3" />
<text x="356.80" y="59.70" font-size="7.0" font-weight="bold" text-anchor="end" fill="#000" >100</text>
<line x1="362.20" y1="204.30" x2="362.20" y2="208.40" stroke="#000" stroke-width="1.3" />
<text x="362.20" y="216.40" font-size="7.0" font-weight="bold" text-anchor="middle" fill="#000" >0</text>
<line x1="404.60" y1="204.30" x2="404.60" y2="208.40" stroke="#000" stroke-width="1.3" />
<text x="404.60" y="216.40" font-size="7.0" font-weight="bold" text-anchor="middle" fill="#000" >2</text>
<line x1="447.00" y1="204.30" x2="447.00" y2="208.40" stroke="#000" stroke-width="1.3" />
<text x="447.00" y="216.40" font-size="7.0" font-weight="bold" text-anchor="middle" fill="#000" >4</text>
<line x1="489.40" y1="204.30" x2="489.40" y2="208.40" stroke="#000" stroke-width="1.3" />
<text x="489.40" y="216.40" font-size="7.0" font-weight="bold" text-anchor="middle" fill="#000" >6</text>
<line x1="531.80" y1="204.30" x2="531.80" y2="208.40" stroke="#000" stroke-width="1.3" />
<text x="531.80" y="216.40" font-size="7.0" font-weight="bold" text-anchor="middle" fill="#000" >8</text>
<text x="446.80" y="227.00" font-size="7.2" font-weight="bold" text-anchor="middle" fill="#000" >days post treatment</text>
<text transform="translate(344.8,126.5) rotate(-90)" font-size="8.3" font-weight="bold" text-anchor="middle">Survival (%)</text>
<circle cx="542.60" cy="84.00" r="3.30" fill="#18b4f4"/>
<text x="552.50" y="85.90" font-size="5.0" text-anchor="start" fill="#000" textLength="49.1" lengthAdjust="spacingAndGlyphs">dsmGFP (200 ng/µL)</text>
<rect x="539.50" y="101.20" width="6.20" height="6.20" fill="#66c4c8"/>
<text x="552.50" y="106.20" font-size="5.6" text-anchor="start" fill="#000" textLength="77.8" lengthAdjust="spacingAndGlyphs">dsPSMB5-Ledprona (8 ng/µL)</text>
<polygon points="542.60,113.47 545.64,118.99 539.56,118.99" fill="#a08ad8"/>
<text x="552.50" y="118.10" font-size="5.6" text-anchor="start" fill="#000" textLength="68.6" lengthAdjust="spacingAndGlyphs">dsPSMB5-dsRIP (8 ng/µL)</text>
<polygon points="542.60,135.93 545.64,130.29 539.56,130.29" fill="#f8a070"/>
<text x="552.50" y="135.10" font-size="5.6" text-anchor="start" fill="#000" textLength="85" lengthAdjust="spacingAndGlyphs">dsPSMB5-Ledprona (200 ng/µL)</text>
<polygon points="542.60,142.20 545.60,145.20 542.60,148.20 539.60,145.20" fill="#f06878"/>
<text x="552.50" y="147.10" font-size="5.6" text-anchor="start" fill="#000" textLength="76.2" lengthAdjust="spacingAndGlyphs">dsPSMB5-dsRIP (200 ng/µL)</text>
<text x="650.30" y="73.60" font-size="7.7" text-anchor="start" fill="#111" font-style="italic">P</text>
<text x="664.80" y="69.80" font-size="6.6" text-anchor="start" fill="#111" >hazard</text>
<text x="664.80" y="77.30" font-size="6.6" text-anchor="start" fill="#111" >ratio</text>
<polyline points="637.8,103.2 643.2,103.2 643.2,116.1 637.8,116.1" fill="none" stroke="#222" stroke-width="1.15"/>
<text x="646.80" y="112.05" font-size="7.5" text-anchor="start" fill="#111" textLength="12.5" lengthAdjust="spacingAndGlyphs">.022</text>
<text x="666.60" y="112.05" font-size="7.5" text-anchor="start" fill="#111" textLength="8.8" lengthAdjust="spacingAndGlyphs">2.1</text>
<polyline points="637.8,132.6 643.2,132.6 643.2,145.5 637.8,145.5" fill="none" stroke="#222" stroke-width="1.15"/>
<text x="646.80" y="141.45" font-size="7.5" text-anchor="start" fill="#111" textLength="9.0" lengthAdjust="spacingAndGlyphs">.13</text>
<text x="666.60" y="141.45" font-size="7.5" text-anchor="start" fill="#111" textLength="8.8" lengthAdjust="spacingAndGlyphs">1.4</text>
<line x1="31.60" y1="285.10" x2="31.60" y2="438.60" stroke="#000" stroke-width="1.6" />
<line x1="27.00" y1="421.00" x2="31.60" y2="421.00" stroke="#000" stroke-width="1.3" />
<text x="26.10" y="423.40" font-size="6.8" font-weight="bold" text-anchor="end" fill="#000" >40</text>
<line x1="27.00" y1="387.20" x2="31.60" y2="387.20" stroke="#000" stroke-width="1.3" />
<text x="26.10" y="389.60" font-size="6.8" font-weight="bold" text-anchor="end" fill="#000" >60</text>
<line x1="27.00" y1="353.40" x2="31.60" y2="353.40" stroke="#000" stroke-width="1.3" />
<text x="26.10" y="355.80" font-size="6.8" font-weight="bold" text-anchor="end" fill="#000" >80</text>
<line x1="27.00" y1="319.60" x2="31.60" y2="319.60" stroke="#000" stroke-width="1.3" />
<text x="26.10" y="322.00" font-size="6.8" font-weight="bold" text-anchor="end" fill="#000" >100</text>
<line x1="27.00" y1="285.80" x2="31.60" y2="285.80" stroke="#000" stroke-width="1.3" />
<text x="26.10" y="288.20" font-size="6.8" font-weight="bold" text-anchor="end" fill="#000" >120</text>
<line x1="29.40" y1="437.90" x2="31.60" y2="437.90" stroke="#000" stroke-width="1.3" />
<line x1="29.40" y1="404.10" x2="31.60" y2="404.10" stroke="#000" stroke-width="1.3" />
<line x1="29.40" y1="370.30" x2="31.60" y2="370.30" stroke="#000" stroke-width="1.3" />
<line x1="29.40" y1="336.50" x2="31.60" y2="336.50" stroke="#000" stroke-width="1.3" />
<line x1="29.40" y1="302.70" x2="31.60" y2="302.70" stroke="#000" stroke-width="1.3" />
<line x1="45.30" y1="450.30" x2="212.20" y2="450.30" stroke="#000" stroke-width="1.6" />
<line x1="86.10" y1="450.30" x2="86.10" y2="455.00" stroke="#000" stroke-width="1.3" />
<text x="86.10" y="463.10" font-size="6.8" font-weight="bold" text-anchor="middle" fill="#000" >3</text>
<line x1="172.30" y1="450.30" x2="172.30" y2="455.00" stroke="#000" stroke-width="1.3" />
<text x="172.30" y="463.10" font-size="6.8" font-weight="bold" text-anchor="middle" fill="#000" >5</text>
<text x="129.30" y="474.80" font-size="7.7" font-weight="bold" text-anchor="middle" fill="#000" >days post treatment</text>
<text transform="translate(9.1,361) rotate(-90)" font-size="9.6" font-weight="bold" text-anchor="middle">Consumed leaf area in 2 days (mm<tspan dy="-3" font-size="6.5">2</tspan><tspan dy="3">)</tspan></text>
<line x1="52.50" y1="339.30" x2="52.50" y2="342.10" stroke="#2030ff" stroke-width="1.1" />
<line x1="52.50" y1="356.00" x2="52.50" y2="357.00" stroke="#2030ff" stroke-width="1.1" />
<line x1="50.30" y1="339.30" x2="54.70" y2="339.30" stroke="#2030ff" stroke-width="1.1" />
<line x1="50.30" y1="357.00" x2="54.70" y2="357.00" stroke="#2030ff" stroke-width="1.1" />
<rect x="49.35" y="342.10" width="6.30" height="13.90" fill="#6a78ff" stroke="#2030ff" stroke-width="1.1"/>
<line x1="49.35" y1="348.40" x2="55.65" y2="348.40" stroke="#2030ff" stroke-width="1.0" />
<rect x="51.70" y="344.78" width="1.6" height="1.6" fill="#2030ff" opacity="0.7"/>
<rect x="51.70" y="348.25" width="1.6" height="1.6" fill="#2030ff" opacity="0.7"/>
<rect x="51.70" y="351.72" width="1.6" height="1.6" fill="#2030ff" opacity="0.7"/>
<line x1="63.70" y1="350.50" x2="63.70" y2="351.50" stroke="#222222" stroke-width="1.1" />
<line x1="63.70" y1="364.50" x2="63.70" y2="365.00" stroke="#222222" stroke-width="1.1" />
<line x1="61.50" y1="350.50" x2="65.90" y2="350.50" stroke="#222222" stroke-width="1.1" />
<line x1="61.50" y1="365.00" x2="65.90" y2="365.00" stroke="#222222" stroke-width="1.1" />
<rect x="60.55" y="351.50" width="6.30" height="13.00" fill="#6a6a6a" stroke="#222222" stroke-width="1.1"/>
<line x1="60.55" y1="357.00" x2="66.85" y2="357.00" stroke="#222222" stroke-width="1.0" />
<rect x="62.90" y="353.95" width="1.6" height="1.6" fill="#222222" opacity="0.7"/>
<rect x="62.90" y="357.20" width="1.6" height="1.6" fill="#222222" opacity="0.7"/>
<rect x="62.90" y="360.45" width="1.6" height="1.6" fill="#222222" opacity="0.7"/>
<line x1="75.00" y1="352.50" x2="75.00" y2="355.00" stroke="#9a6a2c" stroke-width="1.1" />
<line x1="75.00" y1="364.50" x2="75.00" y2="369.50" stroke="#9a6a2c" stroke-width="1.1" />
<line x1="72.80" y1="352.50" x2="77.20" y2="352.50" stroke="#9a6a2c" stroke-width="1.1" />
<line x1="72.80" y1="369.50" x2="77.20" y2="369.50" stroke="#9a6a2c" stroke-width="1.1" />
<rect x="71.85" y="355.00" width="6.30" height="9.50" fill="#c8a670" stroke="#9a6a2c" stroke-width="1.1"/>
<line x1="71.85" y1="358.00" x2="78.15" y2="358.00" stroke="#9a6a2c" stroke-width="1.0" />
<rect x="74.20" y="356.57" width="1.6" height="1.6" fill="#9a6a2c" opacity="0.7"/>
<rect x="74.20" y="358.95" width="1.6" height="1.6" fill="#9a6a2c" opacity="0.7"/>
<rect x="74.20" y="361.32" width="1.6" height="1.6" fill="#9a6a2c" opacity="0.7"/>
<line x1="86.00" y1="338.50" x2="86.00" y2="348.00" stroke="#ff2a2a" stroke-width="1.1" />
<line x1="86.00" y1="362.60" x2="86.00" y2="363.00" stroke="#ff2a2a" stroke-width="1.1" />
<line x1="83.80" y1="338.50" x2="88.20" y2="338.50" stroke="#ff2a2a" stroke-width="1.1" />
<line x1="83.80" y1="363.00" x2="88.20" y2="363.00" stroke="#ff2a2a" stroke-width="1.1" />
<rect x="82.85" y="348.00" width="6.30" height="14.60" fill="#ff8a8a" stroke="#ff2a2a" stroke-width="1.1"/>
<line x1="82.85" y1="359.00" x2="89.15" y2="359.00" stroke="#ff2a2a" stroke-width="1.0" />
<rect x="85.20" y="350.85" width="1.6" height="1.6" fill="#ff2a2a" opacity="0.7"/>
<rect x="85.20" y="354.50" width="1.6" height="1.6" fill="#ff2a2a" opacity="0.7"/>
<rect x="85.20" y="358.15" width="1.6" height="1.6" fill="#ff2a2a" opacity="0.7"/>
<line x1="97.20" y1="351.50" x2="97.20" y2="352.00" stroke="#2ccc2c" stroke-width="1.1" />
<line x1="97.20" y1="361.80" x2="97.20" y2="365.50" stroke="#2ccc2c" stroke-width="1.1" />
<line x1="95.00" y1="351.50" x2="99.40" y2="351.50" stroke="#2ccc2c" stroke-width="1.1" />
<line x1="95.00" y1="365.50" x2="99.40" y2="365.50" stroke="#2ccc2c" stroke-width="1.1" />
<rect x="94.05" y="352.00" width="6.30" height="9.80" fill="#8ae08a" stroke="#2ccc2c" stroke-width="1.1"/>
<line x1="94.05" y1="356.00" x2="100.35" y2="356.00" stroke="#2ccc2c" stroke-width="1.0" />
<rect x="96.40" y="353.65" width="1.6" height="1.6" fill="#2ccc2c" opacity="0.7"/>
<rect x="96.40" y="356.10" width="1.6" height="1.6" fill="#2ccc2c" opacity="0.7"/>
<rect x="96.40" y="358.55" width="1.6" height="1.6" fill="#2ccc2c" opacity="0.7"/>
<line x1="108.50" y1="362.00" x2="108.50" y2="362.50" stroke="#b030f0" stroke-width="1.1" />
<line x1="108.50" y1="370.50" x2="108.50" y2="374.70" stroke="#b030f0" stroke-width="1.1" />
<line x1="106.30" y1="362.00" x2="110.70" y2="362.00" stroke="#b030f0" stroke-width="1.1" />
<line x1="106.30" y1="374.70" x2="110.70" y2="374.70" stroke="#b030f0" stroke-width="1.1" />
<rect x="105.35" y="362.50" width="6.30" height="8.00" fill="#d494f8" stroke="#b030f0" stroke-width="1.1"/>
<line x1="105.35" y1="365.00" x2="111.65" y2="365.00" stroke="#b030f0" stroke-width="1.0" />
<rect x="107.70" y="363.70" width="1.6" height="1.6" fill="#b030f0" opacity="0.7"/>
<rect x="107.70" y="365.70" width="1.6" height="1.6" fill="#b030f0" opacity="0.7"/>
<rect x="107.70" y="367.70" width="1.6" height="1.6" fill="#b030f0" opacity="0.7"/>
<line x1="119.80" y1="355.50" x2="119.80" y2="356.50" stroke="#ff9a30" stroke-width="1.1" />
<line x1="119.80" y1="370.00" x2="119.80" y2="373.40" stroke="#ff9a30" stroke-width="1.1" />
<line x1="117.60" y1="355.50" x2="122.00" y2="355.50" stroke="#ff9a30" stroke-width="1.1" />
<line x1="117.60" y1="373.40" x2="122.00" y2="373.40" stroke="#ff9a30" stroke-width="1.1" />
<rect x="116.65" y="356.50" width="6.30" height="13.50" fill="#ffc486" stroke="#ff9a30" stroke-width="1.1"/>
<line x1="116.65" y1="362.00" x2="122.95" y2="362.00" stroke="#ff9a30" stroke-width="1.0" />
<rect x="119.00" y="359.07" width="1.6" height="1.6" fill="#ff9a30" opacity="0.7"/>
<rect x="119.00" y="362.45" width="1.6" height="1.6" fill="#ff9a30" opacity="0.7"/>
<rect x="119.00" y="365.82" width="1.6" height="1.6" fill="#ff9a30" opacity="0.7"/>
<line x1="138.30" y1="304.70" x2="138.30" y2="307.50" stroke="#2030ff" stroke-width="1.1" />
<line x1="138.30" y1="322.70" x2="138.30" y2="325.30" stroke="#2030ff" stroke-width="1.1" />
<line x1="136.10" y1="304.70" x2="140.50" y2="304.70" stroke="#2030ff" stroke-width="1.1" />
<line x1="136.10" y1="325.30" x2="140.50" y2="325.30" stroke="#2030ff" stroke-width="1.1" />
<rect x="135.15" y="307.50" width="6.30" height="15.20" fill="#6a78ff" stroke="#2030ff" stroke-width="1.1"/>
<line x1="135.15" y1="313.00" x2="141.45" y2="313.00" stroke="#2030ff" stroke-width="1.0" />
<rect x="137.50" y="310.50" width="1.6" height="1.6" fill="#2030ff" opacity="0.7"/>
<rect x="137.50" y="314.30" width="1.6" height="1.6" fill="#2030ff" opacity="0.7"/>
<rect x="137.50" y="318.10" width="1.6" height="1.6" fill="#2030ff" opacity="0.7"/>
<line x1="149.80" y1="357.70" x2="149.80" y2="359.40" stroke="#222222" stroke-width="1.1" />
<line x1="149.80" y1="372.40" x2="149.80" y2="373.00" stroke="#222222" stroke-width="1.1" />
<line x1="147.60" y1="357.70" x2="152.00" y2="357.70" stroke="#222222" stroke-width="1.1" />
<line x1="147.60" y1="373.00" x2="152.00" y2="373.00" stroke="#222222" stroke-width="1.1" />
<rect x="146.65" y="359.40" width="6.30" height="13.00" fill="#6a6a6a" stroke="#222222" stroke-width="1.1"/>
<line x1="146.65" y1="364.00" x2="152.95" y2="364.00" stroke="#222222" stroke-width="1.0" />
<rect x="149.00" y="361.85" width="1.6" height="1.6" fill="#222222" opacity="0.7"/>
<rect x="149.00" y="365.10" width="1.6" height="1.6" fill="#222222" opacity="0.7"/>
<rect x="149.00" y="368.35" width="1.6" height="1.6" fill="#222222" opacity="0.7"/>
<line x1="161.00" y1="364.20" x2="161.00" y2="366.40" stroke="#9a6a2c" stroke-width="1.1" />
<line x1="161.00" y1="380.40" x2="161.00" y2="384.10" stroke="#9a6a2c" stroke-width="1.1" />
<line x1="158.80" y1="364.20" x2="163.20" y2="364.20" stroke="#9a6a2c" stroke-width="1.1" />
<line x1="158.80" y1="384.10" x2="163.20" y2="384.10" stroke="#9a6a2c" stroke-width="1.1" />
<rect x="157.85" y="366.40" width="6.30" height="14.00" fill="#c8a670" stroke="#9a6a2c" stroke-width="1.1"/>
<line x1="157.85" y1="373.00" x2="164.15" y2="373.00" stroke="#9a6a2c" stroke-width="1.0" />
<rect x="160.20" y="369.10" width="1.6" height="1.6" fill="#9a6a2c" opacity="0.7"/>
<rect x="160.20" y="372.60" width="1.6" height="1.6" fill="#9a6a2c" opacity="0.7"/>
<rect x="160.20" y="376.10" width="1.6" height="1.6" fill="#9a6a2c" opacity="0.7"/>
<line x1="172.20" y1="355.60" x2="172.20" y2="358.40" stroke="#ff2a2a" stroke-width="1.1" />
<line x1="172.20" y1="371.10" x2="172.20" y2="374.60" stroke="#ff2a2a" stroke-width="1.1" />
<line x1="170.00" y1="355.60" x2="174.40" y2="355.60" stroke="#ff2a2a" stroke-width="1.1" />
<line x1="170.00" y1="374.60" x2="174.40" y2="374.60" stroke="#ff2a2a" stroke-width="1.1" />
<rect x="169.05" y="358.40" width="6.30" height="12.70" fill="#ff8a8a" stroke="#ff2a2a" stroke-width="1.1"/>
<line x1="169.05" y1="364.00" x2="175.35" y2="364.00" stroke="#ff2a2a" stroke-width="1.0" />
<rect x="171.40" y="360.77" width="1.6" height="1.6" fill="#ff2a2a" opacity="0.7"/>
<rect x="171.40" y="363.95" width="1.6" height="1.6" fill="#ff2a2a" opacity="0.7"/>
<rect x="171.40" y="367.12" width="1.6" height="1.6" fill="#ff2a2a" opacity="0.7"/>
<line x1="183.30" y1="368.00" x2="183.30" y2="368.50" stroke="#2ccc2c" stroke-width="1.1" />
<line x1="183.30" y1="386.90" x2="183.30" y2="387.00" stroke="#2ccc2c" stroke-width="1.1" />
<line x1="181.10" y1="368.00" x2="185.50" y2="368.00" stroke="#2ccc2c" stroke-width="1.1" />
<line x1="181.10" y1="387.00" x2="185.50" y2="387.00" stroke="#2ccc2c" stroke-width="1.1" />
<rect x="180.15" y="368.50" width="6.30" height="18.40" fill="#8ae08a" stroke="#2ccc2c" stroke-width="1.1"/>
<line x1="180.15" y1="377.00" x2="186.45" y2="377.00" stroke="#2ccc2c" stroke-width="1.0" />
<rect x="182.50" y="372.30" width="1.6" height="1.6" fill="#2ccc2c" opacity="0.7"/>
<rect x="182.50" y="376.90" width="1.6" height="1.6" fill="#2ccc2c" opacity="0.7"/>
<rect x="182.50" y="381.50" width="1.6" height="1.6" fill="#2ccc2c" opacity="0.7"/>
<line x1="194.60" y1="356.00" x2="194.60" y2="364.60" stroke="#b030f0" stroke-width="1.1" />
<line x1="194.60" y1="374.60" x2="194.60" y2="378.30" stroke="#b030f0" stroke-width="1.1" />
<line x1="192.40" y1="356.00" x2="196.80" y2="356.00" stroke="#b030f0" stroke-width="1.1" />
<line x1="192.40" y1="378.30" x2="196.80" y2="378.30" stroke="#b030f0" stroke-width="1.1" />
<rect x="191.45" y="364.60" width="6.30" height="10.00" fill="#d494f8" stroke="#b030f0" stroke-width="1.1"/>
<line x1="191.45" y1="369.00" x2="197.75" y2="369.00" stroke="#b030f0" stroke-width="1.0" />
<rect x="193.80" y="366.30" width="1.6" height="1.6" fill="#b030f0" opacity="0.7"/>
<rect x="193.80" y="368.80" width="1.6" height="1.6" fill="#b030f0" opacity="0.7"/>
<rect x="193.80" y="371.30" width="1.6" height="1.6" fill="#b030f0" opacity="0.7"/>
<line x1="205.80" y1="362.50" x2="205.80" y2="373.90" stroke="#ff9a30" stroke-width="1.1" />
<line x1="205.80" y1="389.70" x2="205.80" y2="394.50" stroke="#ff9a30" stroke-width="1.1" />
<line x1="203.60" y1="362.50" x2="208.00" y2="362.50" stroke="#ff9a30" stroke-width="1.1" />
<line x1="203.60" y1="394.50" x2="208.00" y2="394.50" stroke="#ff9a30" stroke-width="1.1" />
<rect x="202.65" y="373.90" width="6.30" height="15.80" fill="#ffc486" stroke="#ff9a30" stroke-width="1.1"/>
<line x1="202.65" y1="382.00" x2="208.95" y2="382.00" stroke="#ff9a30" stroke-width="1.0" />
<rect x="205.00" y="377.05" width="1.6" height="1.6" fill="#ff9a30" opacity="0.7"/>
<rect x="205.00" y="381.00" width="1.6" height="1.6" fill="#ff9a30" opacity="0.7"/>
<rect x="205.00" y="384.95" width="1.6" height="1.6" fill="#ff9a30" opacity="0.7"/>
<polyline points="171.7,342.1 171.7,336.9 183.4,336.9 183.4,342.1" fill="none" stroke="#222" stroke-width="1.1"/>
<text x="177.85" y="332.00" font-size="7.5" text-anchor="middle" fill="#1a1a1a" textLength="13.6" lengthAdjust="spacingAndGlyphs">.007</text>
<polyline points="194.2,342.1 194.2,336.9 205.7,336.9 205.7,342.1" fill="none" stroke="#222" stroke-width="1.1"/>
<text x="200.25" y="332.00" font-size="7.5" text-anchor="middle" fill="#1a1a1a" textLength="13.6" lengthAdjust="spacingAndGlyphs">.009</text>
<rect x="227.2" y="285.30" width="11.2" height="5.6" fill="#6a78ff" stroke="#2030ff" stroke-width="1.1"/>
<text x="244.10" y="290.80" font-size="7.7" text-anchor="start" fill="#111" >dsmGFP</text>
<rect x="227.2" y="298.70" width="11.2" height="5.6" fill="#6a6a6a" stroke="#222222" stroke-width="1.1"/>
<text x="244.10" y="304.20" font-size="7.7" text-anchor="start" fill="#111" >dsRpt1-pre</text>
<rect x="227.2" y="312.40" width="11.2" height="5.6" fill="#c8a670" stroke="#9a6a2c" stroke-width="1.1"/>
<text x="244.10" y="317.90" font-size="7.7" text-anchor="start" fill="#111" >dsRpt1-dsRIP</text>
<rect x="227.2" y="325.30" width="11.2" height="5.6" fill="#ff8a8a" stroke="#ff2a2a" stroke-width="1.1"/>
<text x="244.10" y="330.80" font-size="7.7" text-anchor="start" fill="#111" >dsRpt4-pre</text>
<rect x="227.2" y="339.10" width="11.2" height="5.6" fill="#8ae08a" stroke="#2ccc2c" stroke-width="1.1"/>
<text x="244.10" y="344.60" font-size="7.7" text-anchor="start" fill="#111" >dsRpt4-dsRIP</text>
<rect x="227.2" y="352.00" width="11.2" height="5.6" fill="#d494f8" stroke="#b030f0" stroke-width="1.1"/>
<text x="244.10" y="357.50" font-size="7.7" text-anchor="start" fill="#111" >dsProsβ7-pre</text>
<rect x="227.2" y="365.30" width="11.2" height="5.6" fill="#ffc486" stroke="#ff9a30" stroke-width="1.1"/>
<text x="244.10" y="370.80" font-size="7.7" text-anchor="start" fill="#111" >dsProsβ7-dsRIP</text>
<rect x="52.3" y="242.29999999999998" width="154.80" height="43.60" fill="#fff" stroke="#8a8a8a" stroke-width="1.0"/>
<line x1="52.30" y1="251.20" x2="207.10" y2="251.20" stroke="#555" stroke-width="0.8" />
<line x1="52.30" y1="259.90" x2="207.10" y2="259.90" stroke="#555" stroke-width="0.8" />
<line x1="52.30" y1="268.90" x2="207.10" y2="268.90" stroke="#555" stroke-width="0.8" />
<line x1="52.30" y1="277.60" x2="207.10" y2="277.60" stroke="#555" stroke-width="0.8" />
<line x1="116.20" y1="242.60" x2="116.20" y2="285.90" stroke="#999" stroke-width="0.9" />
<line x1="177.60" y1="242.60" x2="177.60" y2="285.90" stroke="#999" stroke-width="0.9" />
<text x="56.20" y="249.20" font-size="6.5" text-anchor="start" fill="#222" >Source of Variation</text>
<text x="120.40" y="249.20" font-size="6.5" text-anchor="start" fill="#222" >% of total variation</text>
<text x="181.80" y="249.20" font-size="6.5" text-anchor="start" fill="#222" >P value</text>
<text x="63.60" y="257.85" font-size="6.5" text-anchor="start" fill="#222" >Time x dsRNA</text>
<text x="120.40" y="257.85" font-size="6.5" text-anchor="start" fill="#222" >24.0</text>
<text x="181.80" y="257.85" font-size="6.5" text-anchor="start" fill="#222" >&lt;.001</text>
<text x="63.60" y="266.70" font-size="6.5" text-anchor="start" fill="#222" >Time</text>
<text x="120.40" y="266.70" font-size="6.5" text-anchor="start" fill="#222" >2.52</text>
<text x="181.80" y="266.70" font-size="6.5" text-anchor="start" fill="#222" >.001</text>
<text x="63.60" y="275.55" font-size="6.5" text-anchor="start" fill="#222" >dsRNA</text>
<text x="120.40" y="275.55" font-size="6.5" text-anchor="start" fill="#222" >58.3</text>
<text x="181.80" y="275.55" font-size="6.5" text-anchor="start" fill="#222" >&lt;.001</text>
<text x="63.60" y="284.05" font-size="6.5" text-anchor="start" fill="#222" >Beetle</text>
<text x="120.40" y="284.05" font-size="6.5" text-anchor="start" fill="#222" >7.81</text>
<text x="181.80" y="284.05" font-size="6.5" text-anchor="start" fill="#222" >.432</text>
<line x1="391.80" y1="260.80" x2="391.80" y2="425.25" stroke="#000" stroke-width="1.6" />
<line x1="391.05" y1="424.50" x2="536.00" y2="424.50" stroke="#000" stroke-width="1.6" />
<line x1="387.20" y1="424.50" x2="391.80" y2="424.50" stroke="#000" stroke-width="1.3" />
<text x="386.20" y="427.00" font-size="7.1" font-weight="bold" text-anchor="end" fill="#000" >70</text>
<line x1="387.20" y1="391.90" x2="391.80" y2="391.90" stroke="#000" stroke-width="1.3" />
<text x="386.20" y="394.40" font-size="7.1" font-weight="bold" text-anchor="end" fill="#000" >80</text>
<line x1="387.20" y1="359.30" x2="391.80" y2="359.30" stroke="#000" stroke-width="1.3" />
<text x="386.20" y="361.80" font-size="7.1" font-weight="bold" text-anchor="end" fill="#000" >90</text>
<line x1="387.20" y1="326.70" x2="391.80" y2="326.70" stroke="#000" stroke-width="1.3" />
<text x="386.20" y="329.20" font-size="7.1" font-weight="bold" text-anchor="end" fill="#000" >100</text>
<line x1="387.20" y1="294.10" x2="391.80" y2="294.10" stroke="#000" stroke-width="1.3" />
<text x="386.20" y="296.60" font-size="7.1" font-weight="bold" text-anchor="end" fill="#000" >110</text>
<line x1="387.20" y1="261.50" x2="391.80" y2="261.50" stroke="#000" stroke-width="1.3" />
<text x="386.20" y="264.00" font-size="7.1" font-weight="bold" text-anchor="end" fill="#000" >120</text>
<line x1="421.00" y1="424.50" x2="421.00" y2="429.50" stroke="#000" stroke-width="1.3" />
<text transform="translate(423.30,435.6) rotate(-45)" font-size="7.55" font-weight="bold" text-anchor="end">dsmGFP</text>
<line x1="464.60" y1="424.50" x2="464.60" y2="429.50" stroke="#000" stroke-width="1.3" />
<text transform="translate(466.90,435.6) rotate(-45)" font-size="7.55" font-weight="bold" text-anchor="end">dsPSMB5-Ledprona</text>
<line x1="508.00" y1="424.50" x2="508.00" y2="429.50" stroke="#000" stroke-width="1.3" />
<text transform="translate(510.30,435.6) rotate(-45)" font-size="7.55" font-weight="bold" text-anchor="end">dsPSMB5-dsRIP</text>
<text transform="translate(360.2,343.4) rotate(-90)" font-size="10.6" font-weight="bold" text-anchor="middle">Consumed leaf area in 2 h (mm<tspan dy="-3.6" font-size="7.2">2</tspan><tspan dy="3.6">)</tspan></text>
<line x1="420.80" y1="296.90" x2="420.80" y2="307.30" stroke="#2a2a2a" stroke-width="1.2" />
<line x1="420.80" y1="338.50" x2="420.80" y2="342.40" stroke="#2a2a2a" stroke-width="1.2" />
<line x1="413.30" y1="296.90" x2="428.30" y2="296.90" stroke="#2a2a2a" stroke-width="1.2" />
<line x1="413.30" y1="342.40" x2="428.30" y2="342.40" stroke="#2a2a2a" stroke-width="1.2" />
<rect x="406.7" y="307.3" width="28.10" height="31.20" fill="#bcd0ec" stroke="#2a2a2a" stroke-width="1.2"/>
<line x1="406.70" y1="324.10" x2="434.80" y2="324.10" stroke="#2a2a2a" stroke-width="1.2" />
<circle cx="420.80" cy="296.9" r="1.9" fill="#74a0e0"/>
<circle cx="420.80" cy="309.8" r="1.9" fill="#74a0e0"/>
<circle cx="420.80" cy="317.7" r="1.9" fill="#74a0e0"/>
<circle cx="420.80" cy="330.5" r="1.9" fill="#74a0e0"/>
<circle cx="420.80" cy="338.4" r="1.9" fill="#74a0e0"/>
<circle cx="420.80" cy="342.6" r="1.9" fill="#74a0e0"/>
<line x1="464.70" y1="346.80" x2="464.70" y2="353.80" stroke="#2a2a2a" stroke-width="1.2" />
<line x1="464.70" y1="380.20" x2="464.70" y2="382.60" stroke="#2a2a2a" stroke-width="1.2" />
<line x1="457.20" y1="346.80" x2="472.20" y2="346.80" stroke="#2a2a2a" stroke-width="1.2" />
<line x1="457.20" y1="382.60" x2="472.20" y2="382.60" stroke="#2a2a2a" stroke-width="1.2" />
<rect x="450.7" y="353.8" width="28.00" height="26.40" fill="#d2c0ea" stroke="#2a2a2a" stroke-width="1.2"/>
<line x1="450.70" y1="373.90" x2="478.70" y2="373.90" stroke="#2a2a2a" stroke-width="1.2" />
<circle cx="464.70" cy="346.8" r="1.9" fill="#a88ae4"/>
<circle cx="464.70" cy="355.7" r="1.9" fill="#a88ae4"/>
<circle cx="467.70" cy="372.7" r="1.9" fill="#a88ae4"/>
<circle cx="461.30" cy="376" r="1.9" fill="#a88ae4"/>
<circle cx="467.70" cy="379.5" r="1.9" fill="#a88ae4"/>
<circle cx="461.30" cy="382.6" r="1.9" fill="#a88ae4"/>
<line x1="508.00" y1="370.40" x2="508.00" y2="374.40" stroke="#2a2a2a" stroke-width="1.2" />
<line x1="508.00" y1="401.20" x2="508.00" y2="409.00" stroke="#2a2a2a" stroke-width="1.2" />
<line x1="500.50" y1="370.40" x2="515.50" y2="370.40" stroke="#2a2a2a" stroke-width="1.2" />
<line x1="500.50" y1="409.00" x2="515.50" y2="409.00" stroke="#2a2a2a" stroke-width="1.2" />
<rect x="494.0" y="374.4" width="28.00" height="26.80" fill="#f4c8f2" stroke="#2a2a2a" stroke-width="1.2"/>
<line x1="494.00" y1="388.90" x2="522.00" y2="388.90" stroke="#2a2a2a" stroke-width="1.2" />
<circle cx="508.00" cy="370.4" r="1.9" fill="#e890e6"/>
<circle cx="508.00" cy="375.5" r="1.9" fill="#e890e6"/>
<circle cx="508.00" cy="386" r="1.9" fill="#e890e6"/>
<circle cx="508.00" cy="391.2" r="1.9" fill="#e890e6"/>
<circle cx="508.00" cy="399.4" r="1.9" fill="#e890e6"/>
<circle cx="508.00" cy="409" r="1.9" fill="#e890e6"/>
<polyline points="464.6,319 464.6,290.2 508,290.2 508,317.2" fill="none" stroke="#333" stroke-width="1.1"/>
<text x="486.40" y="285.00" font-size="8.2" text-anchor="middle" fill="#222" >.045</text>
</svg>
</body></html>
